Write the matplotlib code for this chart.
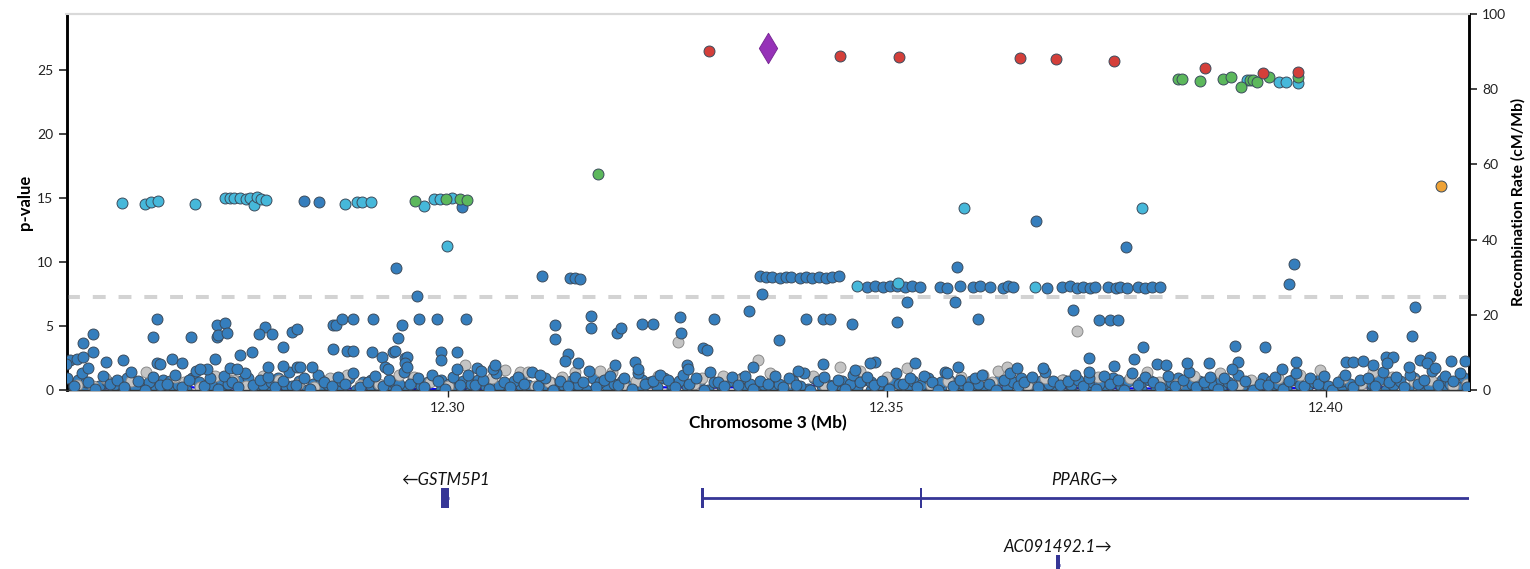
"""
Regional association plot around PPARG (chr3), LocusZoom style.
"""

import matplotlib
matplotlib.use("Agg")
import matplotlib.pyplot as plt
from matplotlib.patches import Rectangle

plt.rcParams['font.family'] = ['Lato', 'DejaVu Sans']

# ---------------------------------------------------------------- data
# dense band of weak signals (r2 < 0.2)
band_pos = [
    12.2567, 12.2575, 12.2584, 12.2591, 12.2599, 12.2608, 12.2615, 12.2624, 12.2631, 12.2640, 12.2647, 12.2655, 12.2664, 12.2672,
    12.2681, 12.2689, 12.2698, 12.2705, 12.2713, 12.2722, 12.2729, 12.2738, 12.2745, 12.2754, 12.2761, 12.2769, 12.2778, 12.2786,
    12.2795, 12.2803, 12.2812, 12.2819, 12.2827, 12.2836, 12.2843, 12.2852, 12.2859, 12.2868, 12.2875, 12.2883, 12.2892, 12.2900,
    12.2909, 12.2917, 12.2926, 12.2933, 12.2941, 12.2950, 12.2957, 12.2966, 12.2973, 12.2982, 12.2989, 12.2997, 12.3006, 12.3014,
    12.3023, 12.3031, 12.3040, 12.3047, 12.3055, 12.3064, 12.3071, 12.3080, 12.3087, 12.3096, 12.3103, 12.3111, 12.3120, 12.3128,
    12.3137, 12.3145, 12.3154, 12.3161, 12.3169, 12.3178, 12.3185, 12.3194, 12.3201, 12.3210, 12.3217, 12.3225, 12.3234, 12.3242,
    12.3251, 12.3259, 12.3268, 12.3275, 12.3283, 12.3292, 12.3299, 12.3308, 12.3315, 12.3324, 12.3331, 12.3339, 12.3348, 12.3356,
    12.3365, 12.3373, 12.3382, 12.3389, 12.3397, 12.3406, 12.3413, 12.3422, 12.3429, 12.3438, 12.3445, 12.3453, 12.3462, 12.3470,
    12.3478, 12.3486, 12.3495, 12.3502, 12.3510, 12.3519, 12.3526, 12.3535, 12.3542, 12.3551, 12.3558, 12.3566, 12.3575, 12.3583,
    12.3592, 12.3600, 12.3609, 12.3616, 12.3624, 12.3633, 12.3640, 12.3649, 12.3656, 12.3665, 12.3672, 12.3680, 12.3689, 12.3697,
    12.3706, 12.3714, 12.3723, 12.3730, 12.3738, 12.3747, 12.3754, 12.3763, 12.3770, 12.3779, 12.3786, 12.3794, 12.3803, 12.3811,
    12.3820, 12.3828, 12.3837, 12.3844, 12.3852, 12.3861, 12.3868, 12.3877, 12.3884, 12.3893, 12.3900, 12.3908, 12.3917, 12.3925,
    12.3934, 12.3942, 12.3951, 12.3958, 12.3966, 12.3975, 12.3982, 12.3991, 12.3998, 12.4007, 12.4014, 12.4022, 12.4031, 12.4039,
    12.4048, 12.4056, 12.4065, 12.4072, 12.4080, 12.4089, 12.4096, 12.4105, 12.4112, 12.4121, 12.4128, 12.4136, 12.4145, 12.4153, 12.4161,
]
band_logp = [
    0.9, 0.3, 1.3, 0.6, 0.1, 1.1, 0.5, 0.8, 0.2, 1.4, 0.7, 0.0, 1.0, 0.4,
    0.5, 1.2, 0.2, 0.8, 1.5, 0.3, 0.9, 0.1, 1.1, 0.6, 0.2, 1.3, 0.4, 0.8,
    1.0, 0.2, 0.7, 1.4, 0.4, 0.9, 0.1, 1.2, 0.6, 0.3, 1.0, 0.5, 1.3, 0.2,
    0.6, 1.1, 0.3, 0.8, 0.0, 1.4, 0.5, 0.9, 0.2, 1.2, 0.7, 0.1, 1.0, 0.4,
    1.2, 0.4, 0.8, 0.1, 1.3, 0.6, 0.2, 1.0, 0.5, 1.4, 0.3, 0.9, 0.0, 0.7,
    0.3, 1.0, 0.6, 1.5, 0.2, 0.8, 1.1, 0.4, 0.9, 0.1, 1.3, 0.5, 0.7, 1.2,
    0.8, 0.2, 1.2, 0.5, 0.9, 0.0, 1.4, 0.6, 0.3, 1.0, 0.4, 1.1, 0.1, 0.7,
    0.5, 1.1, 0.2, 0.9, 0.4, 1.3, 0.0, 0.7, 1.0, 0.3, 0.8, 0.1, 1.2, 0.6,
    1.0, 0.4, 0.7, 0.1, 1.3, 0.5, 0.9, 0.2, 1.1, 0.6, 0.0, 1.4, 0.3, 0.8,
    0.2, 0.9, 1.2, 0.5, 0.0, 0.8, 1.3, 0.3, 0.6, 1.0, 0.2, 1.4, 0.7, 0.4,
    0.7, 1.2, 0.3, 0.9, 0.1, 1.1, 0.5, 0.8, 0.0, 1.3, 0.4, 1.0, 0.6, 0.2,
    1.1, 0.3, 0.8, 1.4, 0.2, 0.6, 1.0, 0.1, 0.9, 0.4, 1.2, 0.7, 0.0, 0.5,
    0.4, 1.0, 0.1, 0.7, 1.3, 0.3, 0.9, 0.5, 1.1, 0.0, 0.6, 1.2, 0.2, 0.8,
    0.9, 0.3, 1.4, 0.6, 1.0, 0.2, 1.2, 0.5, 0.8, 1.5, 0.4, 1.1, 0.7, 1.3, 0.2,
]

# second layer inside the band
band2_pos = [
    12.2570, 12.2579, 12.2588, 12.2603, 12.2612, 12.2620, 12.2635, 12.2644, 12.2660, 12.2676,
    12.2684, 12.2693, 12.2709, 12.2717, 12.2733, 12.2742, 12.2750, 12.2765, 12.2773, 12.2790,
    12.2799, 12.2807, 12.2823, 12.2831, 12.2847, 12.2856, 12.2864, 12.2879, 12.2888, 12.2904,
    12.2913, 12.2921, 12.2937, 12.2945, 12.2961, 12.2970, 12.2978, 12.2993, 12.3002, 12.3018,
    12.3027, 12.3035, 12.3051, 12.3059, 12.3075, 12.3084, 12.3092, 12.3107, 12.3116, 12.3132,
    12.3141, 12.3149, 12.3165, 12.3173, 12.3189, 12.3198, 12.3206, 12.3221, 12.3230, 12.3246,
    12.3255, 12.3263, 12.3279, 12.3287, 12.3303, 12.3312, 12.3320, 12.3335, 12.3344, 12.3360,
    12.3369, 12.3377, 12.3393, 12.3401, 12.3417, 12.3426, 12.3434, 12.3449, 12.3458, 12.3474,
    12.3482, 12.3490, 12.3506, 12.3514, 12.3530, 12.3539, 12.3547, 12.3562, 12.3571, 12.3587,
    12.3596, 12.3604, 12.3620, 12.3628, 12.3644, 12.3653, 12.3661, 12.3676, 12.3685, 12.3701,
    12.3710, 12.3718, 12.3734, 12.3742, 12.3758, 12.3767, 12.3775, 12.3790, 12.3799, 12.3815,
    12.3824, 12.3832, 12.3848, 12.3856, 12.3872, 12.3881, 12.3889, 12.3904, 12.3913, 12.3929,
    12.3938, 12.3946, 12.3962, 12.3970, 12.3986, 12.3995, 12.4003, 12.4018, 12.4027, 12.4043,
    12.4052, 12.4060, 12.4076, 12.4084, 12.4100, 12.4109, 12.4117, 12.4132, 12.4141, 12.4157,
]
band2_logp = [
    0.5, 0.8, 0.6, 0.3, 0.7, 0.4, 0.9, 0.2, 0.6, 0.8,
    0.7, 0.4, 0.9, 0.6, 0.3, 0.8, 0.5, 0.7, 0.9, 0.4,
    0.6, 0.9, 0.3, 0.7, 0.5, 0.8, 0.4, 0.7, 0.9, 0.6,
    0.8, 0.4, 0.7, 0.5, 0.9, 0.3, 0.6, 0.8, 0.5, 0.7,
    0.5, 0.8, 0.6, 0.3, 0.7, 0.9, 0.4, 0.8, 0.6, 0.3,
    0.7, 0.4, 0.9, 0.6, 0.5, 0.7, 0.3, 0.8, 0.6, 0.9,
    0.4, 0.7, 0.5, 0.8, 0.6, 0.3, 0.7, 0.9, 0.5, 0.4,
    0.8, 0.5, 0.7, 0.3, 0.9, 0.6, 0.4, 0.7, 0.5, 0.8,
    0.6, 0.3, 0.8, 0.5, 0.7, 0.4, 0.9, 0.6, 0.8, 0.5,
    0.7, 0.5, 0.4, 0.8, 0.6, 0.9, 0.3, 0.7, 0.5, 0.8,
    0.4, 0.8, 0.6, 0.5, 0.9, 0.3, 0.7, 0.6, 0.8, 0.5,
    0.6, 0.9, 0.5, 0.7, 0.4, 0.8, 0.6, 0.3, 0.7, 0.9,
    0.7, 0.5, 0.8, 0.4, 0.6, 0.9, 0.3, 0.7, 0.5, 0.6,
    0.5, 0.8, 0.4, 0.7, 0.9, 0.6, 0.3, 0.8, 0.5, 0.9,
]

low_pos = [
    12.2571, 12.2588, 12.2604, 12.2628, 12.2650, 12.2668, 12.2685, 12.2702, 12.2726, 12.2742, 12.2765, 12.2782,
    12.2799, 12.2816, 12.2840, 12.2856, 12.2879, 12.2896, 12.2913, 12.2930, 12.2954, 12.2970, 12.2993, 12.3010,
    12.3027, 12.3044, 12.3068, 12.3084, 12.3107, 12.3124, 12.3141, 12.3158, 12.3182, 12.3198, 12.3221, 12.3238,
    12.3255, 12.3272, 12.3296, 12.3312, 12.3335, 12.3352, 12.3369, 12.3386, 12.3410, 12.3426, 12.3449, 12.3466,
    12.3482, 12.3499, 12.3523, 12.3539, 12.3562, 12.3579, 12.3596, 12.3613, 12.3637, 12.3653, 12.3676, 12.3693,
    12.3710, 12.3727, 12.3751, 12.3767, 12.3790, 12.3807, 12.3824, 12.3841, 12.3865, 12.3881, 12.3904, 12.3921,
    12.3938, 12.3955, 12.3979, 12.3995, 12.4018, 12.4035, 12.4052, 12.4069, 12.4093, 12.4109, 12.4132, 12.4149,
]
low_logp = [
    0.0, 0.2, 0.1, 0.0, 0.3, 0.1, 0.2, 0.0, 0.1, 0.3, 0.0, 0.2,
    0.1, 0.3, 0.0, 0.2, 0.1, 0.0, 0.3, 0.0, 0.2, 0.1, 0.0, 0.3,
    0.0, 0.2, 0.1, 0.3, 0.0, 0.1, 0.2, 0.0, 0.3, 0.1, 0.0, 0.2,
    0.1, 0.3, 0.0, 0.2, 0.1, 0.0, 0.2, 0.0, 0.1, 0.3, 0.0, 0.2,
    0.0, 0.3, 0.1, 0.0, 0.2, 0.1, 0.3, 0.0, 0.2, 0.1, 0.0, 0.3,
    0.1, 0.2, 0.0, 0.3, 0.1, 0.0, 0.2, 0.0, 0.3, 0.1, 0.0, 0.2,
    0.0, 0.1, 0.2, 0.0, 0.3, 0.1, 0.2, 0.0, 0.1, 0.3, 0.0, 0.2,
]

# scattered r2 < 0.2 variants below the genome-wide line
mid_pos = [
    12.2669, 12.2596, 12.2585, 12.2664, 12.2708, 12.2737, 12.2747, 12.2737, 12.2739, 12.2749,
    12.2792, 12.2785, 12.2800, 12.2823, 12.2828, 12.2812, 12.2870, 12.2873, 12.2880, 12.2892,
    12.2915, 12.2948, 12.2944, 12.2967, 12.2988, 12.3021, 12.2965, 12.2869, 12.2885, 12.2892,
    12.2914, 12.2925, 12.2938, 12.2940, 12.2951, 12.2954, 12.2993, 12.3011, 12.2993, 12.3122,
    12.3122, 12.2763, 12.2777, 12.2735, 12.2686, 12.2697, 12.2611, 12.2630, 12.2570, 12.2578,
    12.2585, 12.2596, 12.2669, 12.2672, 12.2566, 12.2591, 12.2845, 12.2828, 12.2832, 12.2796,
    12.2812, 12.2726, 12.2718, 12.2752, 12.2760, 12.2929, 12.2932, 12.2951, 12.2954, 12.3011,
    12.3033, 12.3038, 12.3052, 12.3054, 12.3105,
    12.3163, 12.3163, 12.3193, 12.3197, 12.3221, 12.3234, 12.3265, 12.3266, 12.3303, 12.3343,
    12.3358, 12.3291, 12.3295, 12.3377, 12.3408, 12.3427, 12.3435, 12.3460, 12.3512, 12.3523,
    12.3578, 12.3604, 12.3137, 12.3134, 12.3148, 12.3190, 12.3213, 12.3217, 12.3272, 12.3274,
    12.3348, 12.3399, 12.3427, 12.3464, 12.3487, 12.3481, 12.3532, 12.3581, 12.3569, 12.3648,
    12.3678,
    12.3712, 12.3742, 12.3754, 12.3763, 12.3958, 12.4102, 12.3792, 12.3896, 12.3931, 12.4053,
    12.4098, 12.3730, 12.3782, 12.3759, 12.3808, 12.3818, 12.3842, 12.3867, 12.3900, 12.3893,
    12.3966, 12.3950, 12.4023, 12.4031, 12.4042, 12.4054, 12.4068, 12.4077, 12.4070, 12.4107,
    12.4119, 12.4115, 12.4124, 12.4142, 12.4159, 12.4095, 12.3730,
]
mid_logp = [
    5.55, 4.38, 3.67, 4.14, 4.14, 5.08, 5.23, 4.14, 4.30, 4.45,
    4.92, 4.38, 4.38, 4.53, 4.77, 3.36, 5.08, 5.08, 5.55, 5.55,
    5.55, 5.08, 4.06, 5.55, 5.55, 5.55, 7.34, 3.20, 3.05, 3.05,
    2.97, 2.58, 2.97, 3.05, 2.50, 2.58, 2.97, 2.97, 2.34, 5.08,
    3.98, 2.73, 2.97, 2.42, 2.42, 2.11, 2.19, 2.34, 2.34, 2.42,
    2.58, 2.97, 2.11, 2.03, 2.03, 1.72, 1.80, 1.80, 1.80, 1.80,
    1.88, 1.64, 1.64, 1.72, 1.64, 1.80, 1.64, 2.11, 1.80, 1.64,
    1.72, 1.48, 1.64, 1.95, 1.17,
    5.78, 4.84, 4.45, 4.84, 5.16, 5.16, 5.70, 4.45, 5.55, 6.17,
    7.50, 3.28, 3.13, 3.91, 5.55, 5.55, 5.55, 5.16, 5.31, 6.88,
    6.88, 5.55, 2.81, 2.27, 2.11, 1.95, 2.19, 1.64, 1.95, 1.64,
    1.80, 1.48, 2.03, 1.56, 2.19, 2.11, 2.11, 1.80, 1.33, 1.72,
    1.72,
    6.25, 5.47, 5.47, 5.47, 8.28, 6.48, 3.36, 3.44, 3.36, 4.22,
    4.22, 2.50, 2.42, 1.88, 2.03, 1.95, 2.11, 2.11, 2.19, 1.64,
    2.19, 1.64, 2.19, 2.19, 2.27, 1.95, 2.58, 2.58, 2.11, 2.34,
    2.58, 2.11, 1.72, 2.27, 2.27, 1.80, 1.41,
]

# r2 < 0.2 variants above the genome-wide line
high_pos = [
    12.3107, 12.3139, 12.3145, 12.3151,
    12.3356, 12.3362, 12.3369, 12.3378, 12.3385, 12.3391, 12.3401, 12.3408, 12.3415, 12.3423, 12.3431, 12.3438, 12.3446,
    12.3478, 12.3487, 12.3496, 12.3504, 12.3512, 12.3521, 12.3529, 12.3538, 12.3561, 12.3569, 12.3583, 12.3598, 12.3606,
    12.3618, 12.3632, 12.3638, 12.3644, 12.3683, 12.3700, 12.3709, 12.3717, 12.3724, 12.3732, 12.3737, 12.3752, 12.3761,
    12.3766, 12.3774, 12.3786, 12.3794, 12.3802, 12.3811,
    12.2941, 12.3580, 12.3964, 12.3670, 12.3772, 12.2836, 12.2854, 12.3016,
]
high_logp = [
    8.90, 8.75, 8.75, 8.70,
    8.90, 8.85, 8.80, 8.75, 8.80, 8.80, 8.75, 8.80, 8.75, 8.80, 8.75, 8.80, 8.90,
    8.05, 8.10, 8.05, 8.10, 8.15, 8.05, 8.10, 8.05, 8.05, 8.00, 8.10, 8.05, 8.10,
    8.05, 8.00, 8.10, 8.05, 8.00, 8.05, 8.10, 8.00, 8.05, 8.00, 8.05, 8.05, 8.00,
    8.05, 8.00, 8.05, 8.00, 8.05, 8.05,
    9.50, 9.60, 9.85, 13.20, 11.20, 14.75, 14.70, 14.30,
]

# no LD information (grey)
grey_pos = [
    12.2578, 12.2610, 12.2657, 12.2700, 12.2735, 12.2770, 12.2808, 12.2848, 12.2885, 12.2922,
    12.2962, 12.3000, 12.3020, 12.3065, 12.3082, 12.3091, 12.3115, 12.3145, 12.3173, 12.3187,
    12.3215, 12.3262, 12.3290, 12.3314, 12.3353, 12.3367, 12.3416, 12.3447, 12.3470, 12.3523,
    12.3550, 12.3585, 12.3620, 12.3627, 12.3637, 12.3680, 12.3717, 12.3777, 12.3796, 12.3830,
    12.3880, 12.3915, 12.3993, 12.4020, 12.4054, 12.4100, 12.4161,
    12.2596, 12.2640, 12.2690, 12.2718, 12.2756, 12.2790, 12.2830, 12.2866, 12.2900, 12.2945,
    12.2980, 12.3050, 12.3100, 12.3130, 12.3200, 12.3240, 12.3280, 12.3330, 12.3390, 12.3430,
    12.3500, 12.3570, 12.3610, 12.3660, 12.3700, 12.3740, 12.3810, 12.3850, 12.3900, 12.3945,
    12.3970, 12.4040, 12.4075, 12.4120, 12.4145,
]
grey_logp = [
    0.4, 0.9, 1.4, 0.6, 1.1, 0.3, 0.8, 0.2, 1.2, 0.5,
    1.0, 0.3, 1.95, 1.55, 1.4, 1.4, 0.6, 1.4, 1.5, 1.4,
    0.7, 3.75, 0.9, 1.1, 2.35, 1.3, 1.1, 1.8, 1.5, 1.7,
    0.4, 1.0, 0.6, 1.5, 1.8, 0.9, 4.6, 0.9, 1.4, 0.5,
    1.3, 0.8, 1.6, 0.9, 1.4, 0.7, 0.5,
    0.3, 0.7, 1.0, 0.2, 0.8, 1.1, 0.5, 0.9, 0.4, 1.2,
    0.6, 0.9, 0.3, 1.0, 0.4, 1.1, 0.5, 0.8, 0.6, 0.3,
    1.0, 0.7, 1.2, 0.4, 0.8, 1.0, 0.6, 1.1, 0.3, 0.9,
    1.2, 0.5, 1.0, 0.8, 0.3,
]

# r2 0.2-0.4 (light blue)
ld2_pos = [
    12.2629, 12.2655, 12.2662, 12.2670, 12.2712, 12.2747, 12.2752, 12.2757, 12.2763, 12.2770,
    12.2775, 12.2779, 12.2783, 12.2788, 12.2793, 12.2883, 12.2897, 12.2902, 12.2913, 12.2973,
    12.2985, 12.2991, 12.3005, 12.2999, 12.3588, 12.3791, 12.3466, 12.3513, 12.3669,
    12.3910, 12.3947, 12.3955, 12.3968,
]
ld2_logp = [
    14.60, 14.50, 14.70, 14.75, 14.50, 15.00, 15.00, 15.00, 15.00, 14.90,
    15.00, 14.45, 15.10, 14.90, 14.85, 14.50, 14.70, 14.70, 14.70, 14.40,
    14.90, 14.90, 15.00, 11.25, 14.20, 14.20, 8.10, 8.35, 8.05,
    24.20, 24.05, 24.05, 24.00,
]

# r2 0.4-0.6 (green)
ld4_pos = [12.2963, 12.2998, 12.3014, 12.3022, 12.3171,
           12.3832, 12.3836, 12.3857, 12.3883, 12.3892, 12.3903, 12.3914, 12.3917, 12.3922, 12.3935, 12.3968]
ld4_logp = [14.75, 14.90, 14.90, 14.85, 16.90,
            24.30, 24.30, 24.15, 24.30, 24.45, 23.70, 24.20, 24.20, 24.05, 24.45, 24.45]

# r2 0.6-0.8 (orange)
ld6_pos = [12.4131]
ld6_logp = [15.90]

# r2 0.8-1.0 (red)
ld8_pos = [12.3298, 12.3447, 12.3514, 12.3652, 12.3693, 12.3759, 12.3862, 12.3929, 12.3968]
ld8_logp = [26.50, 26.10, 26.00, 25.95, 25.85, 25.70, 25.15, 24.75, 24.85]

# lead variant
lead_pos = [12.3365]
lead_logp = [26.70]

# recombination rate (cM/Mb)
recomb_pos = [12.2566, 12.2620, 12.2660, 12.2680, 12.2720, 12.2800, 12.2900, 12.3000, 12.3100,
              12.3200, 12.3300, 12.3360, 12.3420, 12.3470, 12.3520, 12.3600, 12.3700, 12.3800,
              12.3900, 12.4000, 12.4100, 12.4163]
recomb_rate = [0.6, 0.4, 0.9, 1.3, 0.5, 0.3, 0.4, 0.2, 0.5,
               0.8, 0.6, 0.9, 1.2, 2.6, 1.8, 0.7, 0.5, 0.4,
               0.3, 0.6, 0.8, 0.5]

# genes
gene_names = ['GSTM5P1', 'PPARG', 'AC091492.1']
gene_strand = ['-', '+', '+']
gene_start = [12.2993, 12.3288, 12.3693]
gene_end = [12.3001, 12.4340, 12.3697]
gene_row = [0, 0, 1]
exon_start = [12.2993, 12.3288, 12.3538, 12.3693]
exon_end = [12.3001, 12.3292, 12.3540, 12.3697]
exon_row = [0, 0, 0, 1]

XLIM = (12.2566, 12.4163)
YLIM = (0, 29.375)
GWAS_LINE = 7.3

COLORS = {
    'none': '#c4c4c4',
    'ld0': '#357ebd',
    'ld2': '#46b8da',
    'ld4': '#5cb85c',
    'ld6': '#eea236',
    'ld8': '#d43f3a',
    'lead': '#9632b8',
}
GENE_COLOR = '#363696'

# ---------------------------------------------------------------- figure
fig = plt.figure(figsize=(15.3, 5.69), dpi=100)
W, H = 1530, 569
ax = fig.add_axes([66.5 / W, (H - 390) / H, 1402.5 / W, 376 / H])
ax2 = ax.twinx()
ax.set_zorder(ax2.get_zorder() + 1)
ax.patch.set_visible(False)

# recombination rate behind the points
ax2.plot(recomb_pos, recomb_rate, color='#0000ff', lw=1.6)
ax2.set_ylim(0, 100)

ax.axhline(GWAS_LINE, color='#d3d3d3', lw=2.9, dashes=(3.2, 3.2), zorder=1)

ms = 62
edge = '#3b4b5c'
ax.scatter(low_pos, low_logp, s=ms, c=COLORS['ld0'], edgecolors=edge, linewidths=0.7, zorder=2)
ax.scatter(band2_pos, band2_logp, s=ms, c=COLORS['ld0'], edgecolors=edge, linewidths=0.7, zorder=2)
ax.scatter(grey_pos, grey_logp, s=ms, c=COLORS['none'], edgecolors='#8a8a8a', linewidths=0.7, zorder=2.5)
ax.scatter(band_pos, band_logp, s=ms, c=COLORS['ld0'], edgecolors=edge, linewidths=0.7, zorder=3)
ax.scatter(mid_pos, mid_logp, s=ms, c=COLORS['ld0'], edgecolors=edge, linewidths=0.7, zorder=3)
ax.scatter(high_pos, high_logp, s=ms, c=COLORS['ld0'], edgecolors=edge, linewidths=0.7, zorder=3)
ax.scatter(ld2_pos, ld2_logp, s=ms, c=COLORS['ld2'], edgecolors=edge, linewidths=0.7, zorder=4)
ax.scatter(ld4_pos, ld4_logp, s=ms, c=COLORS['ld4'], edgecolors=edge, linewidths=0.7, zorder=5)
ax.scatter(ld6_pos, ld6_logp, s=ms, c=COLORS['ld6'], edgecolors=edge, linewidths=0.7, zorder=6)
ax.scatter(ld8_pos, ld8_logp, s=ms, c=COLORS['ld8'], edgecolors=edge, linewidths=0.7, zorder=7)
ax.scatter(lead_pos, lead_logp, s=240, marker='d', c=COLORS['lead'], edgecolors='#7a2a96',
           linewidths=0.7, zorder=8)

ax.set_xlim(*XLIM)
ax.set_ylim(*YLIM)
ax.set_xticks([12.30, 12.35, 12.40])
ax.set_xticklabels(['12.30', '12.35', '12.40'])
ax.set_yticks([0, 5, 10, 15, 20, 25])
ax2.set_yticks([0, 20, 40, 60, 80, 100])

for a in (ax, ax2):
    a.spines['top'].set_color('#d9d9d9')
    a.spines['top'].set_linewidth(1.5)
    a.spines['left'].set_linewidth(1.8)
    a.spines['right'].set_linewidth(1.8)
    a.spines['bottom'].set_color('#333333')
    a.spines['bottom'].set_linewidth(1.0)
    a.tick_params(labelsize=10, length=6, width=1.2, colors='#222222')
ax.tick_params(axis='x', length=5, width=1.0)

fig.text(25 / W, 1 - 202 / H, 'p-value', rotation=90, ha='center', va='center',
         fontsize=12, fontweight='bold')
fig.text(1518 / W, 1 - 202 / H, 'Recombination Rate (cM/Mb)', rotation=90, ha='center', va='center',
         fontsize=11.3, fontweight='bold')
fig.text(768 / W, 1 - 423 / H, 'Chromosome 3 (Mb)', ha='center', va='center',
         fontsize=12.5, fontweight='bold')

# ---------------------------------------------------------------- gene track
gax = fig.add_axes([66.5 / W, 0, 1402.5 / W, 129 / H])
gax.set_xlim(*XLIM)
gax.set_ylim(1.06, -0.866)
gax.axis('off')

for name, strand, s, e, r in zip(gene_names, gene_strand, gene_start, gene_end, gene_row):
    gax.plot([s, e], [r, r], color=GENE_COLOR, lw=2, solid_capstyle='butt')
    vis_lo = max(s, XLIM[0])
    vis_hi = min(e, XLIM[1])
    label = ('\u2190' + name) if strand == '-' else (name + '\u2192')
    gax.text((vis_lo + vis_hi) / 2, r - 0.27, label, ha='center', va='center',
             fontsize=12, style='italic', color='#111111')

for s, e, r in zip(exon_start, exon_end, exon_row):
    gax.add_patch(Rectangle((s, r - 0.15), e - s, 0.30, color=GENE_COLOR, lw=0))

fig.savefig('out.png', dpi=100)
